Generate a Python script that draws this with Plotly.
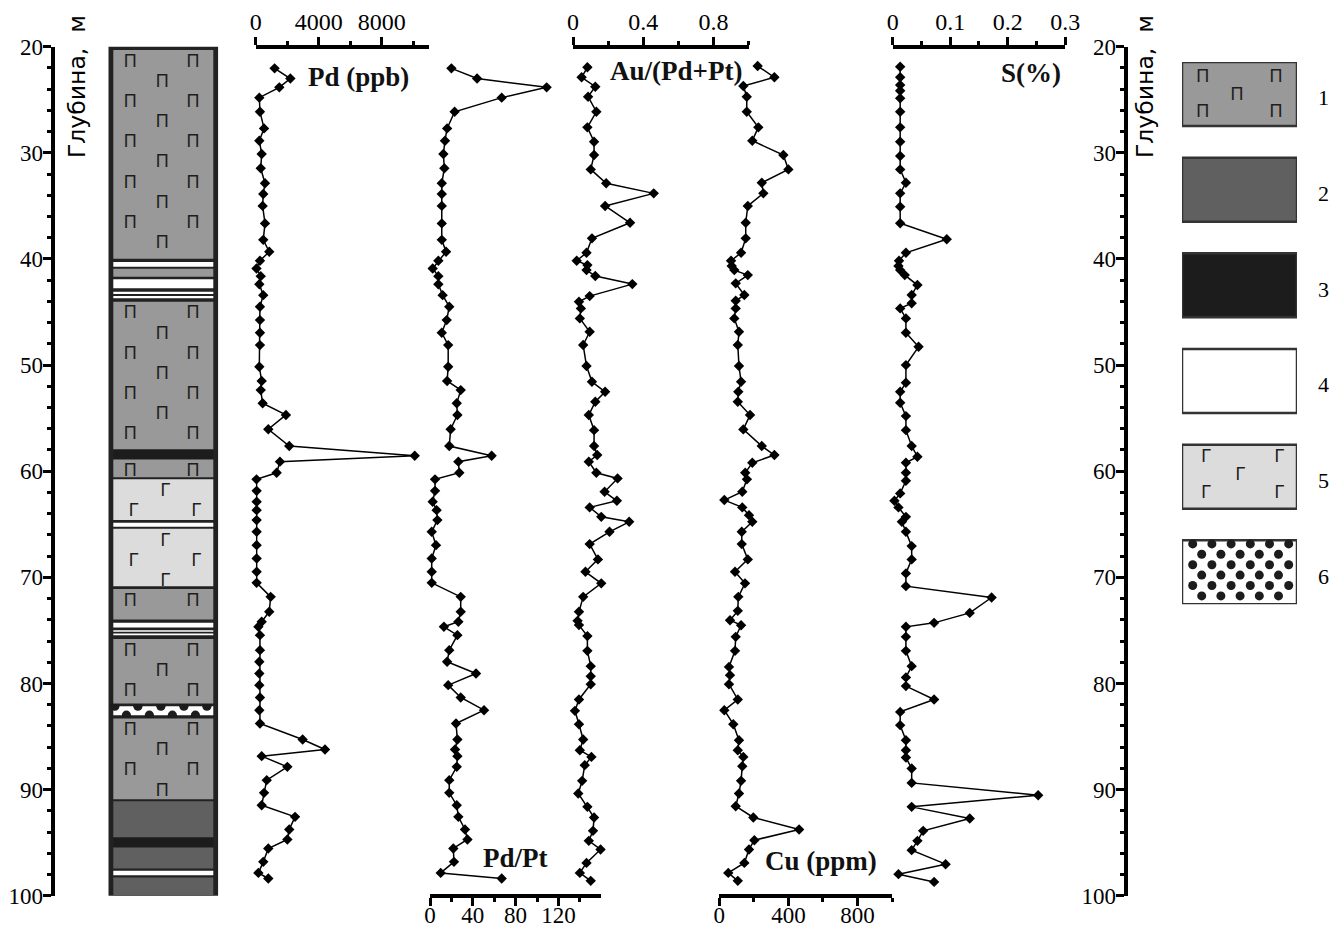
import plotly.graph_objects as go

W, H = 1344, 927
PAGE_OFFSET = 8  # default body margin of the html page

# ---------------- data ----------------
depth_pd = [22.04, 23.0, 23.83, 24.8, 26.13, 27.7, 28.86, 30.11, 31.46, 32.87,
            33.88, 35.0, 36.65, 38.2, 39.32, 40.17, 40.9, 41.62, 42.38, 43.41,
            44.5, 45.76, 46.96, 48.12, 50.16, 51.5, 52.36, 53.6, 54.7, 56.05,
            57.63, 58.55, 59.1, 60.15, 60.77, 61.85, 62.88, 63.67, 64.61, 65.71,
            66.97, 68.22, 69.48, 70.52, 71.84, 73.25, 74.19, 74.66, 75.45, 76.86,
            77.96, 79.06, 80.16, 81.32, 82.52, 83.77, 85.28, 86.22, 86.85, 87.86,
            89.11, 90.31, 91.47, 92.57, 93.76, 94.7, 95.55, 96.81, 97.85, 98.38]
pd_ppb = [1200, 2200, 1500, 230, 270, 530, 230, 380, 320, 590,
          480, 440, 590, 480, 860, 270, 50, 320, 230, 480,
          270, 270, 270, 270, 230, 380, 320, 440, 1920, 800,
          2130, 10100, 1540, 1330, 50, 60, 60, 60, 60, 60,
          60, 60, 60, 60, 950, 860, 380, 170, 270, 270,
          230, 230, 230, 270, 230, 270, 2980, 4400, 380, 2010,
          700, 530, 380, 2500, 2130, 2010, 800, 480, 170, 800]
pd_pt = [20, 44, 109, 67, 23, 16, 14, 12.5, 13.4, 11,
         11, 11, 11, 11, 15, 7.8, 2.5, 7.8, 7.8, 11.8,
         18, 15.6, 11, 17, 17, 16, 28.7, 25, 25.6, 19.3,
         18, 57.6, 26.5, 27.4, 4.7, 4.7, 2.5, 6.2, 6.9, 1.6,
         5.6, 1.6, 1.6, 1.6, 28.7, 28.7, 26.5, 13, 25.6, 18,
         16, 43, 17, 28.7, 50.5, 24.3, 25.6, 23.4, 25.6, 25,
         18, 18, 25, 26.5, 32.7, 35, 21.8, 22.4, 10, 67]

depth_au = [21.94, 22.88, 23.77, 24.71, 26.13, 27.6, 28.95, 30.21, 31.56, 32.87,
            33.82, 35.01, 36.59, 38.06, 39.42, 40.17, 40.58, 41.05, 41.61, 42.37,
            43.5, 44.03, 44.66, 45.6, 46.86, 48.11, 50.09, 51.57, 52.52, 53.46,
            54.71, 56.13, 57.63, 58.48, 59.11, 60.15, 60.68, 61.94, 62.79, 63.41,
            64.3, 64.77, 65.71, 66.87, 68.31, 69.48, 70.57, 71.84, 73.25, 74.1,
            74.5, 75.54, 76.93, 78.37, 79.32, 80.07, 81.51, 82.58, 83.84, 85.28,
            86.29, 86.92, 87.7, 89.18, 90.37, 91.63, 92.63, 93.89, 94.83, 95.64,
            96.91, 97.85, 98.6]
au_ratio = [0.082, 0.049, 0.127, 0.086, 0.133, 0.082, 0.120, 0.120, 0.101, 0.189,
            0.46, 0.183, 0.325, 0.108, 0.077, 0.021, 0.082, 0.077, 0.127, 0.338,
            0.095, 0.034, 0.045, 0.039, 0.095, 0.058, 0.077, 0.108, 0.183, 0.127,
            0.090, 0.120, 0.120, 0.138, 0.090, 0.133, 0.254, 0.18, 0.25, 0.095,
            0.161, 0.32, 0.208, 0.095, 0.142, 0.071, 0.161, 0.058, 0.034, 0.026,
            0.034, 0.082, 0.082, 0.101, 0.101, 0.101, 0.034, 0.011, 0.034, 0.058,
            0.039, 0.105, 0.067, 0.052, 0.030, 0.082, 0.120, 0.114, 0.090, 0.157,
            0.077, 0.039, 0.101]

depth_cu = [21.82, 22.88, 23.70, 24.71, 26.13, 27.6, 28.86, 30.21, 31.56, 32.82,
            33.82, 35.01, 36.59, 38.06, 39.42, 40.17, 40.67, 41.05, 41.52, 42.3,
            43.4, 43.94, 44.66, 45.6, 46.86, 48.11, 50.09, 51.57, 52.52, 53.46,
            54.71, 56.06, 57.63, 58.48, 59.21, 60.15, 60.77, 61.94, 62.72, 63.41,
            64.14, 64.77, 65.71, 66.87, 68.31, 69.48, 70.57, 71.84, 73.16, 74.04,
            74.51, 75.61, 76.93, 78.44, 79.22, 80.07, 81.51, 82.52, 83.84, 85.35,
            86.29, 86.92, 87.8, 89.18, 90.37, 91.57, 92.63, 93.76, 94.77, 95.64,
            96.91, 97.85, 98.6]
cu_ppm = [222, 319, 139, 159, 159, 226, 191, 371, 400, 246,
          255, 165, 153, 153, 126, 68, 72, 87, 165, 95,
          145, 95, 95, 87, 114, 107, 114, 126, 110, 107,
          178, 139, 246, 319, 191, 150, 160, 133, 29, 133,
          172, 191, 130, 130, 165, 91, 149, 110, 107, 62,
          126, 95, 91, 56, 62, 56, 107, 29, 81, 114,
          107, 139, 133, 126, 114, 95, 197, 462, 203, 172,
          145, 52, 107]

depth_s = [21.89, 22.88, 23.61, 24.15, 24.86, 26.13, 27.6, 28.95, 30.3, 31.56,
           32.82, 33.82, 35.08, 36.64, 38.15, 39.42, 40.17, 40.67, 41.05, 41.52,
           42.46, 43.4, 44.18, 44.66, 45.6, 46.96, 48.28, 50.0, 51.67, 52.52,
           53.55, 54.81, 56.13, 57.63, 58.64, 59.21, 60.15, 60.9, 62.09, 62.79,
           63.41, 64.3, 64.77, 65.71, 67.06, 68.31, 69.63, 70.83, 71.9, 73.35,
           74.29, 74.66, 75.61, 76.93, 78.37, 79.43, 80.25, 81.51, 82.68, 83.93,
           85.35, 86.29, 86.98, 88.01, 89.37, 90.53, 91.63, 92.72, 93.89, 94.83,
           95.71, 97.03, 97.97, 98.7]
s_pct = [0.013, 0.013, 0.013, 0.013, 0.013, 0.013, 0.013, 0.013, 0.013, 0.013,
         0.023, 0.013, 0.013, 0.013, 0.094, 0.023, 0.011, 0.010, 0.013, 0.021,
         0.043, 0.033, 0.033, 0.013, 0.023, 0.023, 0.045, 0.023, 0.023, 0.013,
         0.013, 0.023, 0.023, 0.033, 0.043, 0.023, 0.023, 0.023, 0.013, 0.003,
         0.010, 0.023, 0.016, 0.023, 0.033, 0.033, 0.023, 0.023, 0.172, 0.134,
         0.072, 0.023, 0.023, 0.023, 0.033, 0.023, 0.023, 0.072, 0.013, 0.013,
         0.023, 0.023, 0.023, 0.033, 0.033, 0.253, 0.033, 0.134, 0.053, 0.043,
         0.033, 0.092, 0.010, 0.072]

# lithology column: interval tops / bottoms (m) and rock type (1..6)
litho_top = [20.31, 40.29, 40.92, 41.92, 43.09, 43.50, 44.03, 57.95, 58.89, 60.77,
             64.86, 65.43, 71.11, 74.29, 74.98, 75.29, 75.82, 82.14, 83.30, 91.09,
             94.51, 95.46, 97.66, 98.28]
litho_bot = [39.98, 40.73, 41.68, 42.77, 43.31, 43.71, 57.95, 58.89, 60.58, 64.61,
             65.24, 70.83, 73.97, 74.72, 75.14, 75.45, 81.88, 82.99, 90.90, 94.51,
             95.46, 97.44, 98.07, 99.95]
litho_type = [1, 4, 1, 4, 4, 4, 1, 3, 1, 5, 4, 5, 1, 4, 4, 4, 1, 6, 1, 2, 3, 2, 4, 2]

legend_labels = ["1", "2", "3", "4", "5", "6"]
depth_ticks = [20, 30, 40, 50, 60, 70, 80, 90, 100]

# ---------------- styling ----------------
FILL = {1: "#999999", 2: "#606060", 3: "#1c1c1c", 4: "#ffffff", 5: "#dcdcdc", 6: "#ffffff"}
SYM = {1: "П", 5: "Г"}
SERIF = "Liberation Serif"
SANS = "Liberation Sans"


def pxx(p):
    return (p - PAGE_OFFSET) / W


def pxy(p):
    return 1 - (p - PAGE_OFFSET) / H


Y_TOP, Y_BOT = 46.7, 895.7
ydom = [pxy(Y_BOT), pxy(Y_TOP)]
PX_PER_M = (Y_BOT - Y_TOP) / 80.0

common = dict(showline=True, linecolor="black", linewidth=4, ticks="outside",
              ticklen=8, tickwidth=3, tickcolor="black", showgrid=False,
              zeroline=False, fixedrange=True, automargin=False)
top_ax = dict(common, ticklabelstandoff=-3, tickfont=dict(family=SERIF, size=24, color="black"))
bot_ax = dict(common, ticklabelstandoff=-10, tickfont=dict(family=SERIF, size=23, color="black"))
dep_ax = dict(common, ticklabelstandoff=-5, tickfont=dict(family=SERIF, size=23, color="black"))


def minor(vals):
    return dict(tickmode="array", tickvals=vals, ticks="outside", ticklen=4,
                tickwidth=3, tickcolor="black", showgrid=False)


fig = go.Figure()

# ---------------- data tracks ----------------
tracks = [("x", depth_pd, pd_ppb), ("x2", depth_pd, pd_pt), ("x3", depth_au, au_ratio),
          ("x4", depth_cu, cu_ppm), ("x5", depth_s, s_pct)]
for ax, d, v in tracks:
    fig.add_trace(go.Scatter(x=v, y=d, xaxis=ax, yaxis="y", mode="lines+markers",
                             line=dict(color="black", width=1.5),
                             marker=dict(symbol="diamond", size=8, color="black"),
                             cliponaxis=False, showlegend=False, hoverinfo="skip"))

# ---------------- lithology column ----------------
shapes = []
COL_L, COL_R = 108.3, 218.3
col_w = COL_R - COL_L
inset = 5.0 / col_w
shapes.append(dict(type="rect", xref="x6", yref="y", x0=0, x1=1, y0=19.84, y1=100.33,
                   fillcolor="#222222", line=dict(width=0), layer="below"))
# dotted (type 6) bands first, so neighbouring layers trim the dots
for t, b, k in zip(litho_top, litho_bot, litho_type):
    if k != 6:
        continue
    shapes.append(dict(type="rect", xref="x6", yref="y", x0=inset, x1=1 - inset, y0=t, y1=b,
                       fillcolor="white", line=dict(width=0), layer="below"))
    rx, ry = 4.6 / col_w, 4.6 / PX_PER_M
    step = 23.0 / col_w
    for edge, off in ((t, 0.06), (b, 0.06 + step / 2)):
        xc = off
        while xc < 1 - inset:
            shapes.append(dict(type="circle", xref="x6", yref="y", x0=xc - rx, x1=xc + rx,
                               y0=edge - ry, y1=edge + ry, fillcolor="#1c1c1c",
                               line=dict(width=0), layer="below"))
            xc += step
for t, b, k in zip(litho_top, litho_bot, litho_type):
    if k == 6:
        continue
    shapes.append(dict(type="rect", xref="x6", yref="y", x0=inset, x1=1 - inset, y0=t, y1=b,
                       fillcolor=FILL[k], line=dict(width=0), layer="below"))

# pattern symbols in the column
sx, sy, st = [], [], []
for t, b, k in zip(litho_top, litho_bot, litho_type):
    if k not in SYM:
        continue
    pair_first = (k == 1)
    row = 0
    yc = t + 1.15
    while yc <= b - 0.35:
        is_pair = (row % 2 == 0) == pair_first
        xs = [0.2, 0.77] if is_pair else [0.49]
        for xv in xs:
            sx.append(xv + (0.03 if k == 5 else 0))
            sy.append(yc)
            st.append(SYM[k])
        row += 1
        yc += 1.9
fig.add_trace(go.Scatter(x=sx, y=sy, text=st, mode="text", xaxis="x6", yaxis="y",
                         textfont=dict(family=SANS, size=18, color="#1e1e1e"),
                         cliponaxis=False, showlegend=False, hoverinfo="skip"))
# dummy trace for right depth axis
fig.add_trace(go.Scatter(x=[None], y=[None], xaxis="x6", yaxis="y2", showlegend=False))

# ---------------- legend of rock types ----------------
BOX_H = 0.669  # box height relative to legend pitch
LEG_TOP, LEG_BOT = 62.0, 604.3
LEG_L, LEG_R = 1182.0, 1297.0
pitch_px = (LEG_BOT - LEG_TOP) / (5 + BOX_H)
leg_w = LEG_R - LEG_L
for i, lab in enumerate(legend_labels):
    k = i + 1
    shapes.append(dict(type="rect", xref="x7", yref="y3", x0=0, x1=1, y0=i, y1=i + BOX_H,
                       fillcolor=FILL[k], line=dict(color="#333333", width=2.5), layer="below"))
lx, ly, lt = [], [], []
for k in SYM:
    i = k - 1
    rows = [(0.157, [0.18, 0.817]), (0.345, [0.478]), (0.533, [0.18, 0.817])]
    for yo, xs in rows:
        for xv in xs:
            lx.append(xv + (0.03 if k == 5 else 0))
            ly.append(i + yo - (0.025 if k == 5 else 0))
            lt.append(SYM[k])
fig.add_trace(go.Scatter(x=lx, y=ly, text=lt, mode="text", xaxis="x7", yaxis="y3",
                         textfont=dict(family=SANS, size=18, color="#1e1e1e"),
                         cliponaxis=False, showlegend=False, hoverinfo="skip"))
dx, dy = [], []
for r in range(6):
    yy = 5 + (3.6 + r * 10.4) / pitch_px
    x0 = 10.7 if r % 2 == 0 else 19.7
    n = 6 if r % 2 == 0 else 5
    for c in range(n):
        dx.append((x0 + c * 19.2) / leg_w)
        dy.append(yy)
fig.add_trace(go.Scatter(x=dx, y=dy, mode="markers", xaxis="x7", yaxis="y3",
                         marker=dict(symbol="circle", size=9, color="#1c1c1c"),
                         cliponaxis=False, showlegend=False, hoverinfo="skip"))

annotations = []
for i, lab in enumerate(legend_labels):
    cy = LEG_TOP + (i + BOX_H / 2) * pitch_px + 4
    annotations.append(dict(xref="paper", yref="paper", x=pxx(1323), y=pxy(cy), text=lab,
                            showarrow=False, font=dict(family=SERIF, size=22, color="black"),
                            xanchor="center", yanchor="middle"))

# track titles
lab_font = dict(family=SERIF, size=27, color="#111111")
for txt, x, y in [("Pd (ppb)", 358, 77), ("Au/(Pd+Pt)", 676, 71), ("S(%)", 1031, 73),
                  ("Pd/Pt", 515, 858), ("Cu (ppm)", 821, 861)]:
    annotations.append(dict(xref="paper", yref="paper", x=pxx(x), y=pxy(y),
                            text="<b>%s</b>" % txt, showarrow=False, font=lab_font,
                            xanchor="center", yanchor="middle"))
# depth axis titles
for x in (77, 1145):
    annotations.append(dict(xref="paper", yref="paper", x=pxx(x), y=pxy(87),
                            text="Глубина,\u00a0\u00a0м", textangle=-90, showarrow=False,
                            font=dict(family="DejaVu Sans", size=23.5, color="black"),
                            xanchor="center", yanchor="middle"))

minor_depth = [d for d in range(22, 100, 2) if d % 10]

layout = dict(
    width=W, height=H, margin=dict(l=0, r=0, t=0, b=0, pad=0, autoexpand=False),
    paper_bgcolor="white", plot_bgcolor="rgba(0,0,0,0)", showlegend=False,
    shapes=shapes, annotations=annotations,
    yaxis=dict(domain=ydom, range=[100, 20], anchor="free", position=pxx(52.5), side="left",
               tickmode="array", tickvals=depth_ticks, ticktext=[str(v) for v in depth_ticks],
               minor=minor(minor_depth), **dep_ax),
    yaxis2=dict(range=[100, 20], overlaying="y", anchor="free", position=pxx(1125.5), side="left",
                tickmode="array", tickvals=depth_ticks, ticktext=[str(v) for v in depth_ticks],
                minor=minor(minor_depth), **dep_ax),
    xaxis=dict(domain=[pxx(255.7), pxx(428.9)], range=[0, 11000], anchor="free", position=ydom[1],
               side="top", tickmode="array", tickvals=[0, 4000, 8000], ticktext=["0", "4000", "8000"],
               minor=minor([2000, 6000, 10000]), **top_ax),
    xaxis2=dict(domain=[pxx(430), pxx(601.2)], range=[0, 160], anchor="free", position=ydom[0],
                side="bottom", tickmode="array", tickvals=[0, 40, 80, 120], ticktext=["0", "40", "80", "120"],
                minor=minor([20, 60, 100, 140]), **bot_ax),
    xaxis3=dict(domain=[pxx(573), pxx(748.5)], range=[0, 1], anchor="free", position=ydom[1],
                side="top", tickmode="array", tickvals=[0, 0.4, 0.8], ticktext=["0", "0.4", "0.8"],
                minor=minor([0.2, 0.6, 1.0]), **top_ax),
    xaxis4=dict(domain=[pxx(719.3), pxx(892)], range=[0, 1000], anchor="free", position=ydom[0],
                side="bottom", tickmode="array", tickvals=[0, 400, 800], ticktext=["0", "400", "800"],
                minor=minor([200, 600, 1000]), **bot_ax),
    xaxis5=dict(domain=[pxx(892.7), pxx(1065.2)], range=[0, 0.3], anchor="free", position=ydom[1],
                side="top", tickmode="array", tickvals=[0, 0.1, 0.2, 0.3], ticktext=["0", "0.1", "0.2", "0.3"],
                minor=minor([0.05, 0.15, 0.25]), **top_ax),
    xaxis6=dict(domain=[pxx(COL_L), pxx(COL_R)], range=[0, 1], anchor="free", position=0,
                visible=False, fixedrange=True, automargin=False),
    xaxis7=dict(domain=[pxx(LEG_L), pxx(LEG_R)], range=[0, 1], anchor="y3", visible=False,
                fixedrange=True, automargin=False),
    yaxis3=dict(domain=[pxy(LEG_BOT), pxy(LEG_TOP)], range=[5 + BOX_H, 0], anchor="x7",
                visible=False, fixedrange=True, automargin=False),
)
fig.update_layout(**layout)
fig.write_html("out.html")
